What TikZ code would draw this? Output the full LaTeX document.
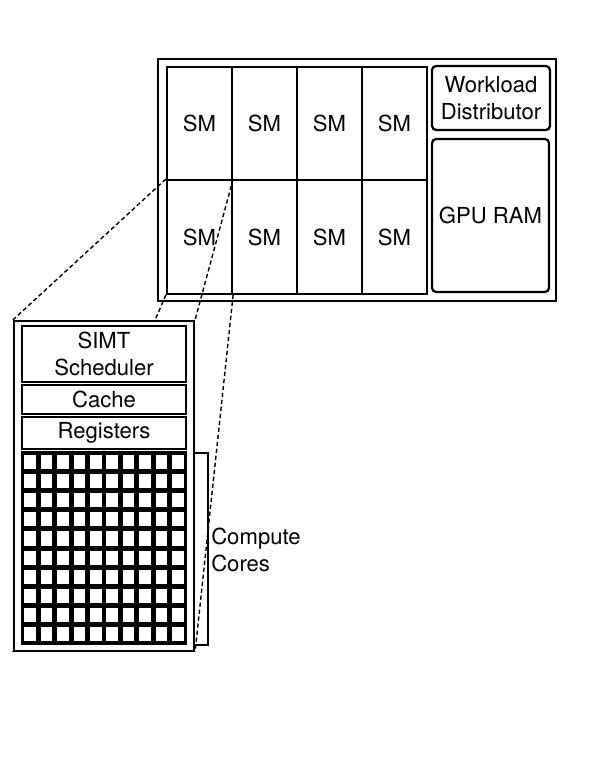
\documentclass[tikz,border=0pt]{standalone}
\usepackage{fontspec}
\setmainfont{TeX Gyre Heros}
\usepackage{tikz}
\usetikzlibrary{shadows}
\pgfdeclarelayer{front}
\pgfsetlayers{main,front}
\tikzstyle{frame} = [rectangle, draw, line width=1.5pt, fill=white, inner sep=0pt, drop shadow={shadow xshift=0.9pt, shadow yshift=-0.9pt, opacity=0.35}]
\tikzstyle{smcell} = [rectangle, draw, line width=1.6pt, minimum width=1.625cm, minimum height=2.84cm, text centered, inner sep=0pt]
\tikzstyle{block} = [rectangle, rounded corners=3pt, draw, line width=1.6pt, fill=white, minimum width=2.95cm, align=center, inner sep=0pt, drop shadow={shadow xshift=0.6pt, shadow yshift=-0.6pt, opacity=0.3}]
\tikzstyle{unit} = [rectangle, draw, line width=1.6pt, minimum width=4.1cm, align=center, inner sep=0pt]
\tikzstyle{zoomline} = [dash pattern=on 3pt off 2pt, line width=1pt]

\begin{document}
\begin{tikzpicture}[x=0.025cm, y=-0.025cm, font=\fontsize{15.7}{19}\selectfont]
    \useasboundingbox (0,0) rectangle (600,760);
    % the GPU
    \node [frame, minimum width=9.95cm, minimum height=6.05cm] at (357,180) (gpu) {};
    \node [smcell] at (199.5,123.5) (sm1) {SM};
    \node [smcell] at (264.5,123.5) (sm2) {SM};
    \node [smcell] at (329.5,123.5) (sm3) {SM};
    \node [smcell] at (394.5,123.5) (sm4) {SM};
    \node [smcell] at (199.5,237) (sm5) {SM};
    \node [smcell] at (264.5,237) (sm6) {SM};
    \node [smcell] at (329.5,237) (sm7) {SM};
    \node [smcell] at (394.5,237) (sm8) {SM};
    \node [block, minimum height=1.6cm] at (491,98) (distributor) {Workload\\Distributor};
    \node [block, minimum width=2.925cm, minimum height=3.825cm] at (490.5,215.5) (ram) {GPU RAM};
    % one SM, drawn in front of the zoom lines
    \begin{pgfonlayer}{front}
    \node [frame, minimum width=4.5cm, minimum height=8.25cm] at (104,486) (sm) {};
    \node [unit, minimum height=1.4cm] at (104,354) (scheduler) {SIMT\\Scheduler};
    \node [unit, minimum height=0.725cm] at (104,399.5) (cache) {Cache};
    \node [unit, minimum height=0.8cm] at (104,433) (registers) {Registers};
    \node [unit, minimum height=4.8cm, fill=black] at (104,548) (cores) {};
    \foreach \i in {0,...,9}
        \foreach \j in {0,...,9}
            \fill [white] (24.4+16.4*\i, 455+19.1*\j) rectangle ++(11.6,14.1);
    \end{pgfonlayer}
    \draw [zoomline] (sm5.north west) -- (sm.north west);
    \draw [zoomline] (sm5.north east) -- (sm.north east);
    \draw [zoomline] (sm5.south west) -- (sm.south west);
    \draw [zoomline] (sm5.south east) -- (sm.south east);
    \draw [line width=1.6pt] (195,453) -- (208,453) -- (208,645) -- (195,645);
    \node [anchor=west, align=left, inner sep=0pt] at (211,550) (label) {Compute\\Cores};
\end{tikzpicture}
\end{document}
